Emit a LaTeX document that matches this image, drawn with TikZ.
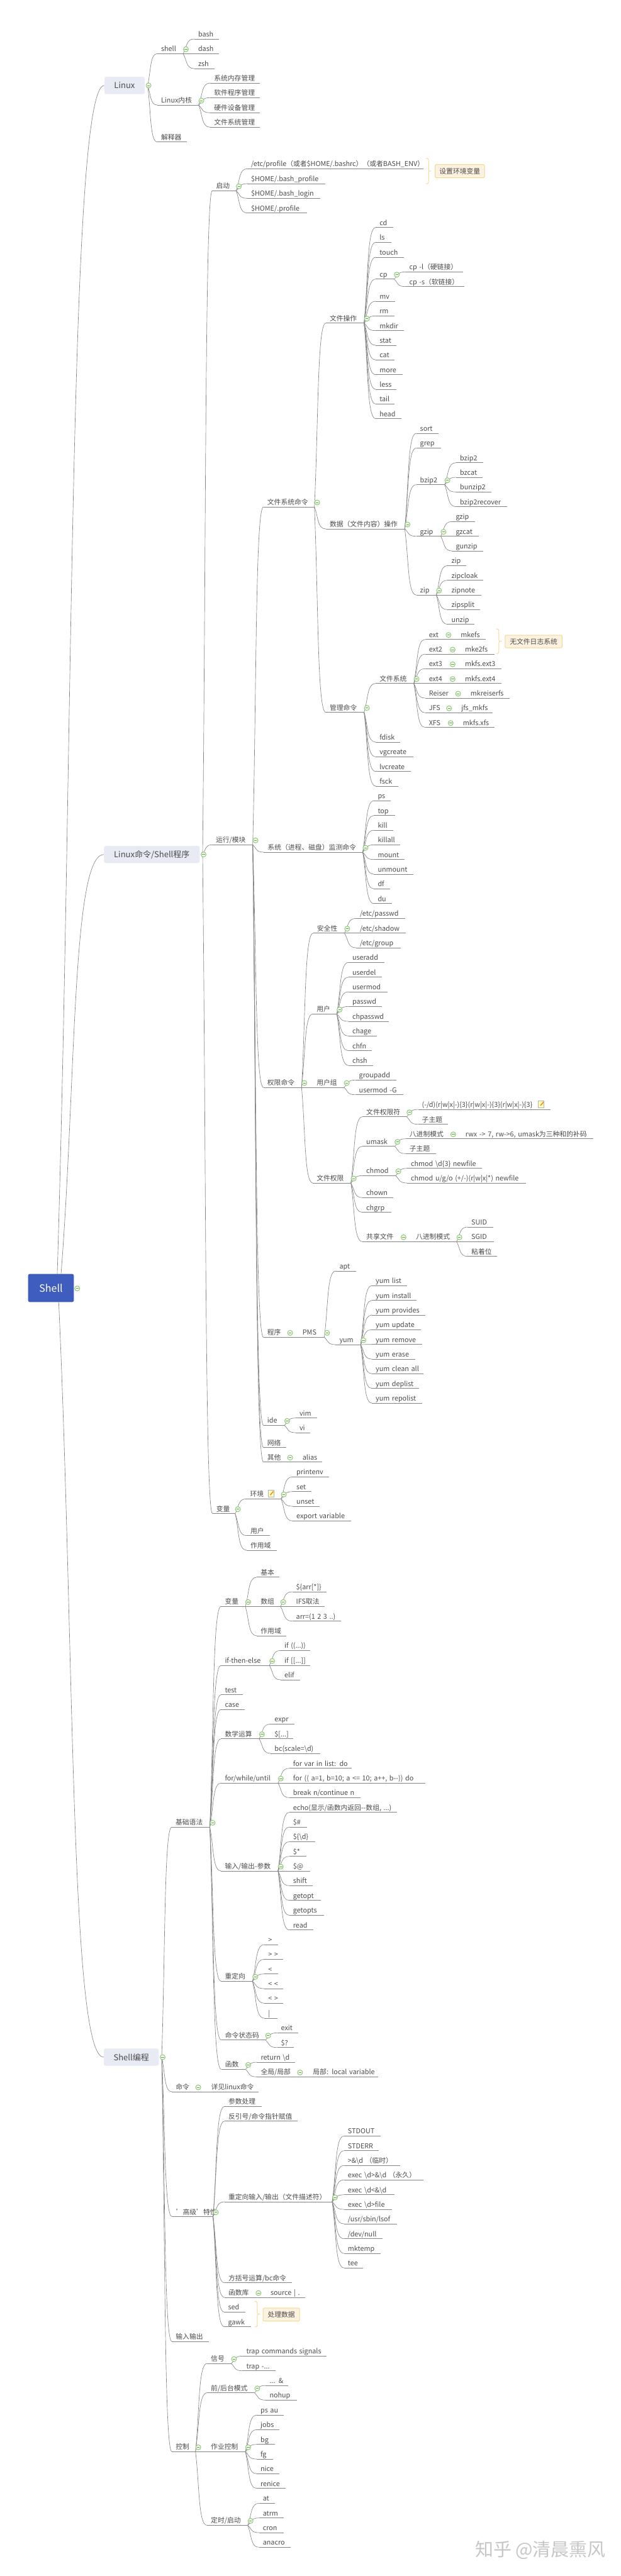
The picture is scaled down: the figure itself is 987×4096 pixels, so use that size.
\documentclass[tikz,border=0pt]{standalone}
\usepackage{fontspec}
\setmainfont{Noto Sans CJK SC}
\usetikzlibrary{calc}
\pgfdeclarelayer{fg}
\pgfsetlayers{main,fg}
\definecolor{txt}{HTML}{4C4C4C}
\definecolor{ln}{HTML}{858585}
\definecolor{grn}{HTML}{8CC56F}
\definecolor{gold}{HTML}{F6D88F}
\definecolor{goldbg}{HTML}{FDF1DF}
\definecolor{boxbg}{HTML}{E9EBF4}
\definecolor{rootbg}{HTML}{3F5DBE}
\tikzset{
  topic/.style={anchor=south west,inner sep=0pt,text height=10pt,text depth=3.3pt,text=txt,font=\fontsize{10.8}{13}\selectfont},
  under/.style={draw=ln,line width=.8pt},
  conn/.style={draw=ln,line width=.65pt},
  btn/.style={circle,draw=grn,fill=grn!12,line width=.9pt,inner sep=0pt,minimum size=8pt,
    path picture={\draw[grn!80!black,line width=.7pt] ([xshift=-2.2pt]path picture bounding box.center)--([xshift=2.2pt]path picture bounding box.center);}},
  mainbox/.style={fill=boxbg,rounded corners=3pt,inner sep=0pt,text=txt,font=\fontsize{13}{16}\selectfont},
  rootbox/.style={fill=rootbg,rounded corners=2.5pt,inner sep=0pt,text=white,font=\fontsize{16}{18}\selectfont},
  callout/.style={fill=goldbg,draw=gold,line width=1pt,rounded corners=2pt,inner sep=0pt,text=txt,font=\fontsize{10.8}{13}\selectfont},
  noteic/.style={rectangle,draw=gray!60,fill=yellow!25,line width=.5pt,inner sep=0pt,minimum width=9pt,minimum height=10.5pt,
    path picture={\draw[orange,line width=1.4pt] ([xshift=-1pt,yshift=-2.5pt]path picture bounding box.center)--([xshift=4pt,yshift=3.5pt]path picture bounding box.center);}},
  brace/.style={draw=gold,line width=.9pt},
  wmark/.style={text=black!22,font=\fontsize{29}{32}\selectfont},
}
\newcommand{\Cx}[2]{\draw[conn] let \p1=(#1-o),\p2=(#2-i) in (\p1) .. controls ({\x1+.35*(\x2-\x1)},{\y1+.45*(\y2-\y1)}) and ({\x1+.25*(\x2-\x1)},\y2) .. (\p2);}
% \T{name}{parent}{text x}{line end x}{line y}{text}
\newcommand{\T}[6]{%
  \pgfmathsetmacro\xl{#3-6}\pgfmathsetmacro\tw{#4-#3+6}%
  \node[topic,text width=\tw pt] (#1) at (\xl,#5) {\mbox{\hspace*{6pt}#6}};
  \coordinate (#1-o) at (#1.south east);
  \coordinate (#1-i) at (#1.south west);
  \draw[under] (#1.south west)--(#1.south east);
  \Cx{#2}{#1}}
\newcommand{\Btn}[2]{\begin{pgfonlayer}{fg}\node[btn] (#1-b) at #2 {};\end{pgfonlayer}}
\newcommand{\TB}[6]{\T{#1}{#2}{#3}{#4}{#5}{#6}\Btn{#1}{($(#1-o)+(4.4,-7)$)}}
% \BX{name}{parent}{x0}{x1}{y0}{y1}{text}
\newcommand{\BX}[7]{%
  \node[mainbox,minimum width=#4pt-#3pt,minimum height=#6pt-#5pt] (#1) at ({(#3+#4)/2},{(#5+#6)/2}) {#7};
  \coordinate (#1-i) at (#1.west);
  \coordinate (#1-o) at ($(#1.east)+(4.5,0)$);
  \Cx{#2}{#1}
  \Btn{#1}{($(#1.east)+(6,0)$)}}
% \Br{name}{x}{y0}{y1}
\newcommand{\Br}[4]{%
  \pgfmathsetmacro\ym{(#3+#4)/2}\pgfmathsetmacro\xa{#2+4.5}\pgfmathsetmacro\xb{#2+9}%
  \pgfmathsetmacro\ya{#3+6}\pgfmathsetmacro\yb{#4-6}\pgfmathsetmacro\yc{\ym-3}\pgfmathsetmacro\yd{\ym+3}%
  \coordinate (#1-tip) at (\xb,\ym);
  \draw[brace] (#2,#3) .. controls (\xa,#3) and (\xa,#3+1) .. (\xa,\ya) -- (\xa,\yc) .. controls (\xa,\ym) .. (#1-tip) .. controls (\xa,\ym) .. (\xa,\yd) -- (\xa,\yb) .. controls (\xa,#4-1) and (\xa,#4) .. (#2,#4);}
\begin{document}
\begin{tikzpicture}[x=1pt,y=-1pt]
\useasboundingbox (0,0) rectangle (987,4096);
\fill[white] (0,0) rectangle (987,4096);
% root
\node[rootbox,minimum width=72.6pt,minimum height=44.6pt] (root) at (81,2048) {Shell};
\coordinate (ra-o) at (91,2025.7);
\coordinate (rb-o) at (97,2025.7);
\coordinate (rc-o) at (93.3,2070.3);
\Btn{root}{(122.7,2048.7)}
\begin{scope}[xshift=-1.7pt]
% Linux
\BX{lx}{ra}{167.7}{231.6}{122}{149.7}{Linux}
\TB{shl}{lx}{257.6}{292.4}{85.3}{shell}
\T{bash}{shl}{316.5}{349.4}{62}{bash}
\T{dash}{shl}{316.5}{349.4}{85.3}{dash}
\T{zsh}{shl}{316.5}{342.4}{109}{zsh}
\TB{kern}{lx}{257.6}{317}{167}{Linux内核}
\T{k1}{kern}{341.8}{414.6}{132}{系统内存管理}
\T{k2}{kern}{341.8}{414.6}{155.3}{软件程序管理}
\T{k3}{kern}{341.8}{414.6}{179.3}{硬件设备管理}
\T{k4}{kern}{341.8}{414.6}{202.3}{文件系统管理}
\T{interp}{lx}{257.6}{298.7}{225.7}{解释器}
% Linux commands
\BX{lc}{rb}{167}{319}{1345}{1372.3}{Linux命令/Shell程序}
\TB{boot}{lc}{345}{376.6}{303.3}{启动}
\T{bt1}{boot}{400.6}{674}{268.3}{/etc/profile（或者\$HOME/.bashrc）（或者BASH\_ENV）}
\T{bt2}{boot}{400.6}{518}{292}{\$HOME/.bash\_profile}
\T{bt3}{boot}{400.6}{510}{315.3}{\$HOME/.bash\_login}
\T{bt4}{boot}{400.6}{489.5}{338.7}{\$HOME/.profile}
\node[callout,minimum width=78.4pt,minimum height=21pt] (envset) at (732.5,272.2) {设置环境变量};
\Br{brA}{678.5}{251.7}{292.3}
\TB{run}{lc}{344.5}{403}{1343.3}{运行/模块}
\TB{fsc}{run}{426.4}{501}{806}{文件系统命令}
\TB{fop}{fsc}{525.5}{580}{513.7}{文件操作}
\T{cd}{fop}{604.8}{626.6}{361.7}{cd}
\T{ls}{fop}{604.8}{623.4}{385.3}{ls}
\T{touch}{fop}{604.8}{643}{409}{touch}
\TB{cp}{fop}{604.8}{627.6}{443.7}{cp}
\T{cpl}{cp}{652}{737.5}{432.3}{cp -l（硬链接）}
\T{cps}{cp}{652}{739.6}{455.7}{cp -s（软链接）}
\T{mv}{fop}{604.8}{629}{479}{mv}
\T{rm}{fop}{604.8}{628}{502.3}{rm}
\T{mkdir}{fop}{604.8}{643}{525.7}{mkdir}
\T{stat}{fop}{604.8}{631.7}{549}{stat}
\T{cat}{fop}{604.8}{628.6}{572.3}{cat}
\T{more}{fop}{604.8}{641.4}{595.7}{more}
\T{less}{fop}{604.8}{631.7}{619}{less}
\T{tail}{fop}{604.8}{628.6}{642.3}{tail}
\T{head}{fop}{604.8}{639.2}{665.7}{head}
\TB{dop}{fsc}{525.5}{644.6}{841}{数据（文件内容）操作}
\T{sort}{dop}{669.2}{697.8}{689}{sort}
\T{grep}{dop}{669.2}{701.8}{712.3}{grep}
\TB{bz}{dop}{669.2}{708}{770.7}{bzip2}
\T{bz1}{bz}{732.6}{769.2}{735.7}{bzip2}
\T{bz2}{bz}{732.6}{768.7}{759}{bzcat}
\T{bz3}{bz}{732.6}{782.4}{782.3}{bunzip2}
\T{bz4}{bz}{732.6}{807.5}{805.7}{bzip2recover}
\TB{gz}{dop}{669.2}{701.8}{852.7}{gzip}
\T{gz1}{gz}{726}{756.4}{829.3}{gzip}
\T{gz2}{gz}{726}{762.1}{852.7}{gzcat}
\T{gz3}{gz}{726}{769.6}{876}{gunzip}
\TB{zp}{dop}{669.2}{694.7}{946}{zip}
\T{zp1}{zp}{719}{741.9}{899.3}{zip}
\T{zp2}{zp}{719}{769.6}{922.7}{zipcloak}
\T{zp3}{zp}{719}{766}{946}{zipnote}
\T{zp4}{zp}{719}{764.7}{969.3}{zipsplit}
\T{zp5}{zp}{719}{755.5}{992.7}{unzip}
\TB{mgr}{fsc}{525.5}{580}{1132.7}{管理命令}
\TB{fs}{mgr}{604.8}{659}{1086.7}{文件系统}
\TB{ext}{fs}{683.3}{709.7}{1016.7}{ext}
\T{ext1}{ext}{733.9}{773.6}{1016.7}{mkefs}
\TB{exta}{fs}{683.3}{716.3}{1040}{ext2}
\T{ext2}{exta}{740.5}{786.8}{1040}{mke2fs}
\TB{extb}{fs}{683.3}{716.3}{1063.3}{ext3}
\T{ext3}{extb}{740.5}{798.2}{1063.3}{mkfs.ext3}
\TB{extc}{fs}{683.3}{716.3}{1086.7}{ext4}
\T{ext4}{extc}{740.5}{798.2}{1086.7}{mkfs.ext4}
\TB{rei}{fs}{683.3}{725}{1110}{Reiser}
\T{rei1}{rei}{749.3}{811.5}{1110}{mkreiserfs}
\TB{jfs}{fs}{683.3}{710.6}{1133.3}{JFS}
\T{jfs1}{jfs}{734.8}{784.6}{1133.3}{jfs\_mkfs}
\TB{xfs}{fs}{683.3}{713.2}{1156.7}{XFS}
\T{xfs1}{xfs}{737.4}{787.2}{1156.7}{mkfs.xfs}
\node[callout,minimum width=90.3pt,minimum height=20pt] (nolog) at (849.8,1020) {无文件日志系统};
\Br{brB}{790}{1000}{1039.3}
\T{fdisk}{mgr}{604.8}{637.4}{1180}{fdisk}
\T{vg}{mgr}{604.8}{658.4}{1203.3}{vgcreate}
\T{lv}{mgr}{604.8}{654.4}{1226.7}{lvcreate}
\T{fsck}{mgr}{604.8}{634.5}{1250}{fsck}
\TB{sys}{run}{427}{577.8}{1355}{系统（进程、磁盘）监测命令}
\T{ps}{sys}{602}{622}{1273.3}{ps}
\T{top}{sys}{602}{628.8}{1296.7}{top}
\T{kill}{sys}{602}{626}{1320}{kill}
\T{killall}{sys}{602}{637.3}{1343.3}{killall}
\T{mount}{sys}{602}{644.7}{1366.7}{mount}
\T{umnt}{sys}{602}{658.4}{1390}{unmount}
\T{df}{sys}{602}{621.4}{1413.3}{df}
\T{du}{sys}{602}{624.3}{1436.7}{du}
\TB{perm}{run}{426.4}{480.6}{1729}{权限命令}
\TB{sec}{perm}{505.4}{548.8}{1483.7}{安全性}
\T{sec1}{sec}{573.6}{645.3}{1460.3}{/etc/passwd}
\T{sec2}{sec}{573.6}{646.4}{1483.7}{/etc/shadow}
\T{sec3}{sec}{573.6}{638.5}{1507}{/etc/group}
\TB{usr}{perm}{504.8}{536.6}{1612.3}{用户}
\T{u1}{usr}{561.5}{612.3}{1530.3}{useradd}
\T{u2}{usr}{561.5}{607.8}{1553.7}{userdel}
\T{u3}{usr}{561.5}{616.9}{1577}{usermod}
\T{u4}{usr}{561.5}{607.8}{1600.3}{passwd}
\T{u5}{usr}{561.5}{619.4}{1624}{chpasswd}
\T{u6}{usr}{561.5}{600.4}{1647.3}{chage}
\T{u7}{usr}{561.5}{592.5}{1670.7}{chfn}
\T{u8}{usr}{561.5}{593.8}{1694}{chsh}
\TB{grp}{perm}{504.8}{548}{1729}{用户组}
\T{g1}{grp}{572.2}{631.7}{1717.3}{groupadd}
\T{g2}{grp}{572.2}{642.3}{1740.7}{usermod -G}
\TB{fp}{perm}{504.8}{559}{1881}{文件权限}
\TB{fps}{fp}{583.7}{647.6}{1775.7}{文件权限符}
\T{fps1}{fps}{672.2}{876.2}{1764}{(-/d)(r|w|x|-)\{3\}(r|w|x|-)\{3\}(r|w|x|-)\{3\}}
\node[noteic] (ni1) at (861.7,1755.5) {};
\T{fps2}{fps}{672.2}{713.2}{1787.7}{子主题}
\TB{um}{fp}{583.7}{628.6}{1822.7}{umask}
\TB{um1}{um}{652.4}{717.2}{1810.7}{八进制模式}
\T{um1a}{um1}{741.4}{944.5}{1810.7}{rwx -> 7, rw->6, umask为三种和的补码}
\T{um2}{um}{652.4}{694.3}{1834.3}{子主题}
\TB{chm}{fp}{583.7}{630}{1869.3}{chmod}
\T{chm1}{chm}{654.6}{767}{1857.7}{chmod \textbackslash d\{3\} newfile}
\T{chm2}{chm}{654.6}{837.4}{1881}{chmod u/g/o (+/-)(r|w|x|*) newfile}
\T{chown}{fp}{583.7}{626.4}{1904.3}{chown}
\T{chgrp}{fp}{583.7}{622.9}{1927.7}{chgrp}
\TB{shr}{fp}{583.7}{638.3}{1974.3}{共享文件}
\TB{oct}{shr}{662.6}{727}{1974.3}{八进制模式}
\T{suid}{oct}{750.7}{785.5}{1951}{SUID}
\T{sgid}{oct}{750.7}{786}{1974.3}{SGID}
\T{sticky}{oct}{750.7}{791.6}{1997.7}{粘着位}
\TB{prog}{run}{426.4}{458}{2126.3}{程序}
\TB{pms}{prog}{482.4}{516.7}{2126.3}{PMS}
\T{apt}{pms}{541}{567}{2021}{apt}
\TB{yum}{pms}{541}{574.5}{2138}{yum}
\T{y1}{yum}{598.7}{648}{2044.3}{yum list}
\T{y2}{yum}{598.7}{663.4}{2067.7}{yum install}
\T{y3}{yum}{598.7}{677.5}{2091}{yum provides}
\T{y4}{yum}{598.7}{670}{2114.3}{yum update}
\T{y5}{yum}{598.7}{672.2}{2137.7}{yum remove}
\T{y6}{yum}{598.7}{660.8}{2161}{yum erase}
\T{y7}{yum}{598.7}{674.4}{2184.3}{yum clean all}
\T{y8}{yum}{598.7}{667.4}{2207.7}{yum deplist}
\T{y9}{yum}{598.7}{671.8}{2231}{yum repolist}
\TB{ide}{run}{426.4}{453.3}{2266.3}{ide}
\T{vim}{ide}{477.5}{505.3}{2254.7}{vim}
\T{vi}{ide}{477.5}{494.3}{2278}{vi}
\T{net}{run}{426.4}{456.4}{2301.7}{网络}
\TB{oth}{run}{426.4}{458}{2324.7}{其他}
\T{alias}{oth}{482.4}{513.7}{2324.7}{alias}
\TB{var}{lc}{345.4}{375}{2406.7}{变量}
\TB{env}{var}{399}{448}{2383.3}{环境}
\node[noteic] (ni2) at (432.2,2374.8) {};
\T{e1}{env}{472.7}{524.7}{2348.3}{printenv}
\T{e2}{env}{472.7}{496}{2371.7}{set}
\T{e3}{env}{472.7}{509.7}{2395}{unset}
\T{e4}{env}{472.7}{559}{2418.3}{export variable}
\T{vu}{var}{399.6}{430.4}{2441.7}{用户}
\T{vs}{var}{399.6}{441.4}{2465}{作用域}
% Shell programming
\BX{sp}{rc}{166.7}{254}{3257.3}{3284.7}{Shell编程}
\TB{syn}{sp}{280.6}{334.8}{2905.3}{基础语法}
\TB{sv}{syn}{359}{391.2}{2554.3}{变量}
\T{sv1}{sv}{415.9}{445}{2507.7}{基本}
\TB{sv2}{sv}{415.9}{447.1}{2554.3}{数组}
\T{ar1}{sv2}{472.2}{520.7}{2531}{\$\{arr[*]\}}
\T{ar2}{sv2}{472.2}{517.2}{2554.3}{IFS取法}
\T{ar3}{sv2}{472.2}{543.2}{2577.7}{arr=(1 2 3 ..)}
\T{sv3}{sv}{415.9}{456.4}{2601}{作用域}
\TB{ife}{syn}{359}{429.5}{2648}{if-then-else}
\T{if1}{ife}{453.7}{493.8}{2624.3}{if ((...))}
\T{if2}{ife}{453.7}{493.8}{2648}{if [[...]]}
\T{if3}{ife}{453.7}{478}{2671}{elif}
\T{test}{syn}{359}{387.7}{2694.7}{test}
\T{case}{syn}{359}{390.7}{2718}{case}
\TB{math}{syn}{359}{413.2}{2764.7}{数学运算}
\T{m1}{math}{437.9}{469.2}{2741.3}{expr}
\T{m2}{math}{437.9}{467.4}{2764.7}{\$[...]}
\T{m3}{math}{437.9}{510.6}{2788}{bc(scale=\textbackslash d)}
\TB{loop}{syn}{359}{443.2}{2835}{for/while/until}
\T{l1}{loop}{467.4}{560}{2811.7}{for var in list: do}
\T{l2}{loop}{467.4}{677.5}{2835}{for (( a=1, b=10; a <= 10; a++, b-{}-)) do}
\T{l3}{loop}{467.4}{574.5}{2858.3}{break n/continue n}
\TB{io}{syn}{359}{443.2}{2975}{输入/输出-参数}
\T{i1}{io}{467.4}{632.6}{2881.7}{echo(显示/函数内返回-{}-数组, ...)}
\T{i2}{io}{467.4}{489}{2905}{\$\#}
\T{i3}{io}{467.4}{501.8}{2928.3}{\$\{\textbackslash d\}}
\T{i4}{io}{467.4}{488.1}{2951.7}{\$*}
\T{i5}{io}{467.4}{493.8}{2975}{\$@}
\T{i6}{io}{467.4}{498.2}{2998.3}{shift}
\T{i7}{io}{467.4}{511.5}{3021.7}{getopt}
\T{i8}{io}{467.4}{516.3}{3045.4}{getopts}
\T{i9}{io}{467.4}{499.6}{3068.7}{read}
\TB{rd}{syn}{359}{402.6}{3150.3}{重定向}
\T{r1}{rd}{427.8}{443.6}{3092}{>}
\T{r2}{rd}{427.8}{451.5}{3115.3}{>{ }>}
\T{r3}{rd}{427.8}{443.6}{3138.7}{<}
\T{r4}{rd}{427.8}{451.5}{3162}{<{ }<}
\T{r5}{rd}{427.8}{451.5}{3185.3}{<{ }>}
\T{r6}{rd}{427.8}{442}{3209}{|}
\TB{st}{syn}{359.3}{423}{3243.7}{命令状态码}
\T{st1}{st}{448.2}{475}{3232.3}{exit}
\T{st2}{st}{448.2}{468}{3255.7}{\$?}
\TB{fn}{syn}{359.3}{391.4}{3290.3}{函数}
\T{fn1}{fn}{416}{470.3}{3279}{return \textbackslash d}
\TB{fn2}{fn}{416}{473.8}{3302.3}{全局/局部}
\T{fn3}{fn2}{498.9}{602.4}{3302.3}{局部: local variable}
\TB{cmd}{sp}{280.8}{312}{3326}{命令}
\T{cmd1}{cmd}{337.2}{412.6}{3326}{详见linux命令}
\TB{adv}{sp}{281.3}{339.9}{3524.7}{\symbol{39}高级\symbol{39}特性}
\T{ad1}{adv}{364.5}{417}{3349.3}{参数处理}
\T{ad2}{adv}{364.5}{474.2}{3372.7}{反引号/命令指针赋值}
\TB{ad3}{adv}{364.5}{529.3}{3501}{重定向输入/输出（文件描述符）}
\T{fd1}{ad3}{554.4}{606}{3396.3}{STDOUT}
\T{fd2}{ad3}{554.4}{602.9}{3419.7}{STDERR}
\T{fd3}{ad3}{554.4}{637.2}{3443}{>\&\textbackslash d （临时）}
\T{fd4}{ad3}{554.4}{674.2}{3466}{exec \textbackslash d>\&\textbackslash d （永久）}
\T{fd5}{ad3}{554.4}{628.4}{3489.7}{exec \textbackslash d<\&\textbackslash d}
\T{fd6}{ad3}{554.4}{624}{3513}{exec \textbackslash d>file}
\T{fd7}{ad3}{554.4}{632.4}{3536}{/usr/sbin/lsof}
\T{fd8}{ad3}{554.4}{609.5}{3559.7}{/dev/null}
\T{fd9}{ad3}{554.4}{606}{3583}{mktemp}
\T{fd10}{ad3}{554.4}{578.6}{3606}{tee}
\T{ad4}{adv}{364.5}{465}{3629.7}{方括号运算/bc命令}
\TB{ad5}{adv}{364.5}{407.7}{3653}{函数库}
\T{ad5a}{ad5}{431.5}{486.4}{3653}{source | .}
\T{sed}{adv}{364}{390.9}{3676.3}{sed}
\T{gawk}{adv}{364}{400.5}{3699.7}{gawk}
\node[callout,minimum width=58pt,minimum height=20.7pt] (proc) at (448.8,3680.3) {处理数据};
\Br{brC}{406}{3659.3}{3700}
\T{sio}{sp}{280.9}{333}{3723}{输入输出}
\TB{ctl}{sp}{280.9}{312}{3898.3}{控制}
\TB{sig}{ctl}{336.7}{368.8}{3758}{信号}
\T{sig1}{sig}{393}{520.7}{3746.3}{trap commands signals}
\T{sig2}{sig}{393}{439.2}{3769.7}{trap -...}
\TB{bgm}{ctl}{336.7}{405.8}{3804.7}{前/后台模式}
\T{bg1}{bgm}{430}{459}{3793}{... \&}
\T{bg2}{bgm}{430}{473}{3816.3}{nohup}
\TB{job}{ctl}{336.7}{391.3}{3898.3}{作业控制}
\T{j1}{job}{415.6}{452}{3840}{ps au}
\T{j2}{job}{415.6}{445}{3863.3}{jobs}
\T{j3}{job}{415.6}{438}{3886.7}{bg}
\T{j4}{job}{415.6}{434.9}{3910}{fg}
\T{j5}{job}{415.6}{445}{3933.3}{nice}
\T{j6}{job}{415.6}{455.3}{3956.7}{renice}
\TB{tim}{ctl}{336.7}{395.1}{4015.3}{定时/启动}
\T{t1}{tim}{419.3}{438.6}{3980.3}{at}
\T{t2}{tim}{419.3}{452.6}{4003.7}{atrm}
\T{t3}{tim}{419.3}{452}{4027}{cron}
\T{t4}{tim}{419.3}{462.8}{4050.3}{anacro}
\node[wmark] (wm) at (860.7,4054.5) {知乎 @清晨熏风};
\end{scope}
\end{tikzpicture}
\end{document}
